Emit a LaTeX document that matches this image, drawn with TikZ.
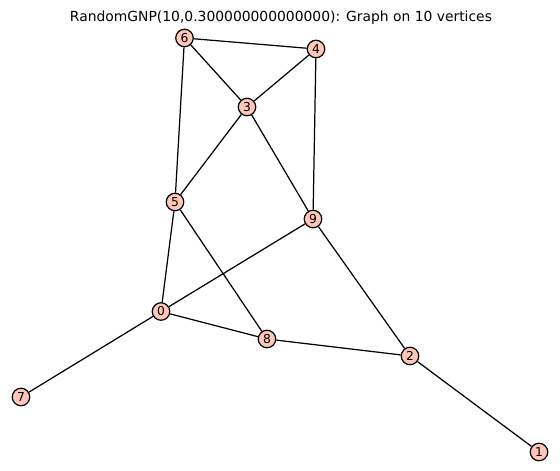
\documentclass[tikz,border=0pt]{standalone}
\usepackage{fontspec}
\setmainfont{DejaVu Sans}
\definecolor{vfill}{HTML}{FEC7B8}
\begin{document}
\begin{tikzpicture}[x=0.02cm,y=-0.02cm,line width=0.7pt]
                \tikzset{vertex/.style={circle,draw,fill=vfill,inner sep=0pt,minimum size=0.35cm,font=\fontsize{7}{8}\selectfont}}
                \useasboundingbox (0,0) rectangle (560,470);
                \node[font=\fontsize{7.9}{9}\selectfont] (title) at (281,18) {RandomGNP(10,0.300000000000000): Graph on 10 vertices};
                \node[vertex] (v6) at (184.5,38) {6};
                \node[vertex] (v4) at (316,49) {4};
                \node[vertex] (v3) at (247,107) {3};
                \node[vertex] (v5) at (175,202) {5};
                \node[vertex] (v9) at (313,219) {9};
                \node[vertex] (v0) at (161,311.5) {0};
                \node[vertex] (v8) at (267,339) {8};
                \node[vertex] (v2) at (410,356) {2};
                \node[vertex] (v7) at (21,397) {7};
                \node[vertex] (v1) at (539,452) {1};
                \draw (v6) -- (v4);
                \draw (v6) -- (v3);
                \draw (v6) -- (v5);
                \draw (v4) -- (v3);
                \draw (v4) -- (v9);
                \draw (v3) -- (v5);
                \draw (v3) -- (v9);
                \draw (v5) -- (v0);
                \draw (v5) -- (v8);
                \draw (v9) -- (v0);
                \draw (v9) -- (v2);
                \draw (v0) -- (v8);
                \draw (v0) -- (v7);
                \draw (v8) -- (v2);
                \draw (v2) -- (v1);
            \end{tikzpicture}
\end{document}
